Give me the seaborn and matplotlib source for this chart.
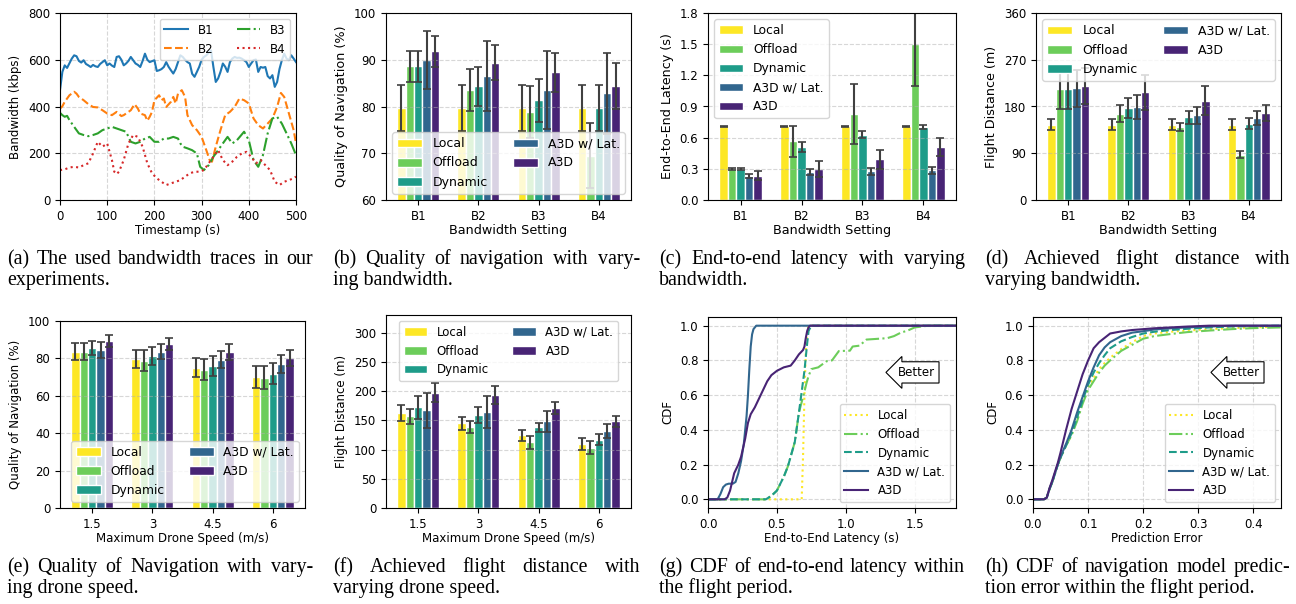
import numpy as np
import pandas as pd
import seaborn as sns
import matplotlib.pyplot as plt

# ---- data ----
methods = ['Local', 'Offload', 'Dynamic', 'A3D w/ Lat.', 'A3D']
bw_cats = ['B1', 'B2', 'B3', 'B4']
speed_cats = ['1.5', '3', '4.5', '6']

# (a) bandwidth traces (kbps)
b1_t = list(range(0, 501, 5))
b1_v = [470, 548, 576, 565, 585, 605, 619, 615, 595, 588, 598, 582, 576, 569, 578, 572, 569, 582, 590, 598,
        576, 584, 575, 569, 612, 615, 600, 576, 584, 595, 612, 598, 584, 578, 569, 595, 626, 600, 590, 594,
        598, 552, 555, 560, 569, 590, 570, 555, 541, 560, 590, 619, 612, 600, 590, 584, 540, 527, 548, 570,
        600, 612, 619, 630, 640, 569, 505, 520, 548, 584, 570, 548, 590, 605, 612, 608, 609, 605, 598, 590,
        569, 584, 598, 601, 548, 569, 566, 569, 530, 520, 534, 484, 505, 560, 598, 626, 605, 598, 619, 605, 590]
b2_t = [0, 5, 10, 15, 20, 30, 35, 40, 50, 60, 70, 80, 90, 100, 110, 120, 130, 135, 140, 150, 158, 165, 170,
        180, 185, 190, 195, 200, 210, 215, 220, 225, 235, 240, 245, 250, 258, 265, 270, 280, 290, 300, 310,
        317, 322, 330, 340, 350, 360, 370, 380, 390, 400, 410, 420, 430, 440, 450, 460, 468, 475, 485, 495, 500]
b2_v = [391, 401, 420, 434, 448, 463, 455, 441, 427, 410, 398, 396, 384, 370, 363, 377, 359, 363, 370, 384,
        410, 391, 370, 363, 339, 356, 377, 427, 448, 427, 434, 398, 420, 441, 413, 455, 470, 441, 363, 320,
        299, 270, 213, 171, 164, 228, 299, 363, 377, 398, 434, 427, 413, 349, 320, 306, 327, 349, 398, 458,
        441, 370, 299, 242]
b3_t = [0, 5, 10, 15, 20, 30, 40, 50, 60, 70, 80, 90, 100, 110, 120, 130, 140, 150, 160, 170, 180, 190, 200,
        210, 220, 230, 240, 250, 255, 260, 270, 280, 290, 297, 305, 315, 325, 335, 345, 355, 365, 375, 390,
        400, 410, 420, 430, 440, 450, 460, 470, 480, 490, 500]
b3_v = [373, 363, 356, 360, 342, 313, 285, 278, 273, 278, 285, 299, 306, 313, 306, 299, 292, 249, 242, 249,
        263, 270, 249, 249, 263, 263, 270, 263, 242, 228, 221, 213, 199, 142, 128, 149, 185, 213, 242, 270,
        242, 256, 292, 256, 171, 142, 192, 285, 349, 356, 327, 285, 242, 192]
b4_t = [0, 10, 20, 30, 40, 50, 60, 70, 80, 90, 100, 110, 115, 120, 125, 135, 145, 155, 165, 175, 185, 195,
        205, 215, 225, 235, 245, 255, 265, 275, 285, 295, 305, 315, 325, 335, 345, 355, 365, 375, 385, 395,
        405, 415, 425, 435, 445, 455, 465, 475, 485, 495, 500]
b4_v = [128, 131, 139, 142, 139, 149, 157, 199, 249, 228, 242, 171, 121, 111, 121, 171, 242, 278, 270, 228,
        157, 114, 93, 78, 64, 71, 78, 85, 100, 114, 121, 121, 128, 157, 185, 213, 171, 149, 164, 185, 199,
        206, 185, 157, 171, 149, 128, 78, 64, 78, 85, 93, 100]

# (b) quality of navigation vs bandwidth (%)
qon_bw_mean = [[79.7, 79.7, 79.7, 79.7],
               [88.6, 83.5, 78.8, 69.5],
               [88.6, 84.3, 81.3, 79.7],
               [89.9, 86.5, 83.5, 82.8],
               [91.8, 89.4, 87.3, 84.3]]
qon_bw_err = [[5.0, 5.0, 5.0, 5.0],
              [3.3, 4.5, 5.5, 7.0],
              [3.3, 4.2, 4.6, 5.0],
              [6.2, 7.5, 8.3, 8.6],
              [3.3, 3.7, 4.2, 4.9]]

# (c) latency vs bandwidth (s)
lat_bw_mean = [[0.71, 0.71, 0.71, 0.71],
               [0.30, 0.565, 0.83, 1.50],
               [0.30, 0.51, 0.63, 0.70],
               [0.235, 0.27, 0.275, 0.285],
               [0.235, 0.30, 0.39, 0.51]]
lat_bw_err = [[0.005, 0.005, 0.005, 0.005],
              [0.01, 0.15, 0.29, 0.40],
              [0.01, 0.05, 0.035, 0.02],
              [0.02, 0.03, 0.03, 0.03],
              [0.045, 0.075, 0.095, 0.085]]

# (d) flight distance vs bandwidth (m)
dist_bw_mean = [[145, 145, 145, 145],
                [213, 166, 140, 87],
                [213, 177, 159, 147],
                [215, 179, 163, 158],
                [219, 207, 191, 168]]
dist_bw_err = [[10, 10, 10, 10],
               [37, 16, 8, 7],
               [37, 20, 13, 10],
               [36, 23, 16, 13],
               [35, 34, 28, 15]]

# (e) quality of navigation vs speed (%)
qon_sp_mean = [[83.5, 79.7, 74.9, 70.1],
               [83.5, 78.8, 73.9, 69.6],
               [85.6, 81.3, 76.0, 71.8],
               [84.4, 83.5, 79.2, 77.0],
               [89.4, 87.6, 83.4, 80.3]]
qon_sp_err = [[4.5, 4.8, 5.1, 5.9],
              [4.5, 5.5, 5.6, 6.1],
              [3.8, 4.6, 5.2, 5.6],
              [4.2, 4.0, 4.5, 4.6],
              [3.2, 3.2, 4.2, 4.3]]

# (f) flight distance vs speed (m)
dist_sp_mean = [[162, 145, 124, 110],
                [157, 139, 112, 103],
                [172, 159, 138, 117],
                [167, 164, 148, 131],
                [197, 193, 171, 148]]
dist_sp_err = [[14, 11, 10, 10],
               [13, 10, 11, 11],
               [20, 14, 8, 10],
               [30, 28, 18, 12],
               [16, 15, 11, 10]]

# (g) CDF of end-to-end latency
lat_local_x = [0, 0.68, 0.69, 0.70, 0.71, 0.72, 0.73, 1.8]
lat_local_y = [0, 0, 0.25, 0.6, 0.85, 0.97, 1.0, 1.0]
lat_off_x = [0, 0.42, 0.46, 0.5, 0.55, 0.58, 0.63, 0.66, 0.7, 0.715, 0.73, 0.75, 0.8, 0.86, 0.9, 0.95,
             1.03, 1.05, 1.1, 1.15, 1.3, 1.35, 1.4, 1.45, 1.5, 1.6, 1.8]
lat_off_y = [0, 0, 0.02, 0.05, 0.13, 0.19, 0.33, 0.5, 0.62, 0.67, 0.71, 0.75, 0.76, 0.795, 0.8, 0.854,
             0.856, 0.88, 0.885, 0.92, 0.928, 0.94, 0.96, 0.972, 0.99, 1.0, 1.0]
lat_dyn_x = [0, 0.42, 0.46, 0.5, 0.55, 0.58, 0.63, 0.66, 0.7, 0.72, 0.73, 0.75, 1.8]
lat_dyn_y = [0, 0, 0.02, 0.05, 0.13, 0.19, 0.33, 0.5, 0.74, 0.9, 0.97, 1.0, 1.0]
lat_wl_x = [0, 0.07, 0.09, 0.11, 0.13, 0.15, 0.18, 0.2, 0.22, 0.24, 0.26, 0.28, 0.29, 0.30, 0.31, 0.32,
            0.33, 0.35, 1.8]
lat_wl_y = [0, 0, 0.03, 0.07, 0.085, 0.09, 0.09, 0.1, 0.15, 0.22, 0.32, 0.48, 0.6, 0.75, 0.88, 0.95,
            0.98, 1.0, 1.0]
lat_a3d_x = [0, 0.12, 0.14, 0.16, 0.19, 0.22, 0.24, 0.27, 0.29, 0.31, 0.34, 0.37, 0.4, 0.43, 0.46, 0.5,
             0.55, 0.6, 0.63, 0.66, 0.69, 0.7, 0.71, 0.72, 0.73, 0.74, 1.8]
lat_a3d_y = [0, 0, 0.01, 0.05, 0.15, 0.2, 0.245, 0.35, 0.44, 0.49, 0.53, 0.58, 0.63, 0.68, 0.715, 0.74,
             0.76, 0.77, 0.8, 0.835, 0.86, 0.88, 0.93, 0.97, 0.99, 1.0, 1.0]

# (h) CDF of prediction error
err_x = [0, 0.02, 0.025, 0.03, 0.035, 0.04, 0.045, 0.05, 0.06, 0.07, 0.08, 0.09, 0.1, 0.11, 0.12, 0.13,
         0.14, 0.16, 0.18, 0.2, 0.22, 0.25, 0.28, 0.32, 0.36, 0.4, 0.45]
err_local = [0, 0, 0.01, 0.06, 0.1, 0.15, 0.2, 0.24, 0.31, 0.37, 0.46, 0.56, 0.645, 0.7, 0.75, 0.785,
             0.815, 0.865, 0.905, 0.94, 0.955, 0.965, 0.972, 0.98, 0.986, 0.99, 0.995]
err_off = [0, 0, 0.01, 0.06, 0.1, 0.15, 0.2, 0.24, 0.31, 0.37, 0.45, 0.55, 0.63, 0.68, 0.73, 0.77,
           0.8, 0.855, 0.89, 0.925, 0.94, 0.952, 0.963, 0.972, 0.98, 0.986, 0.99]
err_dyn = [0, 0, 0.01, 0.06, 0.1, 0.15, 0.2, 0.24, 0.31, 0.38, 0.47, 0.57, 0.66, 0.73, 0.785, 0.83,
           0.87, 0.91, 0.935, 0.955, 0.965, 0.975, 0.982, 0.99, 0.995, 0.998, 1.0]
err_wl = [0, 0, 0.01, 0.06, 0.1, 0.15, 0.2, 0.245, 0.32, 0.4, 0.5, 0.59, 0.68, 0.76, 0.83, 0.875,
          0.905, 0.94, 0.96, 0.968, 0.978, 0.985, 0.99, 0.995, 1.0, 1.0, 1.0]
err_a3d = [0, 0, 0.01, 0.065, 0.11, 0.16, 0.21, 0.27, 0.4, 0.52, 0.62, 0.72, 0.8, 0.87, 0.905, 0.93,
           0.955, 0.967, 0.975, 0.98, 0.985, 0.99, 0.995, 1.0, 1.0, 1.0, 1.0]

captions = [
    ('(a) The used bandwidth traces in our', 'experiments.'),
    ('(b) Quality of navigation with vary-', 'ing bandwidth.'),
    ('(c) End-to-end latency with varying', 'bandwidth.'),
    ('(d) Achieved flight distance with', 'varying bandwidth.'),
    ('(e) Quality of Navigation with vary-', 'ing drone speed.'),
    ('(f) Achieved flight distance with', 'varying drone speed.'),
    ('(g) CDF of end-to-end latency within', 'the flight period.'),
    ('(h) CDF of navigation model predic-', 'tion error within the flight period.'),
]

# ---- style ----
plt.rcParams['font.size'] = 8.5
plt.rcParams['font.family'] = ['DejaVu Sans']
colors = [plt.cm.viridis(v) for v in [1.0, 0.775, 0.55, 0.325, 0.1]]
line_styles = [':', '-.', '--', '-', '-']

W, H = 1296, 604
fig = plt.figure(figsize=(W / 100, H / 100), dpi=100)


def ax_px(l, t, r, b):
    return fig.add_axes([l / W, 1 - b / H, (r - l) / W, (b - t) / H])


def bar_panel(ax, cats, means, errs, xlabel, ylabel, ylim, yticks, leg_loc, leg_ncol, lab_fs=8.5, leg_fs=8.5):
    rows = []
    for mi, m in enumerate(methods):
        for ci, c in enumerate(cats):
            rows.append({'cat': c, 'method': m, 'val': means[mi][ci]})
    df = pd.DataFrame(rows)
    sns.barplot(data=df, x='cat', y='val', hue='method', order=cats, hue_order=methods,
                palette=colors, errorbar=None, width=0.7, saturation=1,
                edgecolor='white', linewidth=1, ax=ax)
    for cont, e in zip(ax.containers, errs):
        for bar, ev in zip(cont, e):
            ax.errorbar(bar.get_x() + bar.get_width() / 2, bar.get_height(), yerr=ev,
                        color='0.25', capsize=3, elinewidth=1.5, capthick=1.2)
    ax.set_ylim(*ylim)
    ax.set_yticks(yticks)
    ax.set_xlabel(xlabel, labelpad=1, fontsize=lab_fs)
    ax.set_ylabel(ylabel, fontsize=lab_fs)
    ax.grid(axis='y', linestyle='--', alpha=0.5)
    sns.move_legend(ax, leg_loc, ncol=leg_ncol, title=None, frameon=True, fontsize=leg_fs)


# (a)
ax = ax_px(60, 13, 296, 200)
for t, v, c, ls, lab in [(b1_t, b1_v, 'tab:blue', '-', 'B1'), (b2_t, b2_v, 'tab:orange', '--', 'B2'),
                         (b3_t, b3_v, 'tab:green', '-.', 'B3'), (b4_t, b4_v, 'tab:red', ':', 'B4')]:
    sns.lineplot(x=t, y=v, color=c, linestyle=ls, linewidth=1.5, label=lab,
                 estimator=None, sort=False, ax=ax)
ax.set_xlim(0, 500)
ax.set_ylim(0, 800)
ax.set_xticks([0, 100, 200, 300, 400, 500])
ax.set_yticks([0, 200, 400, 600, 800])
ax.grid(linestyle='--', alpha=0.5)
ax.set_xlabel('Timestamp (s)', labelpad=1)
ax.set_ylabel('Bandwidth (kbps)')
ax.legend(loc='upper right', ncol=2)

# (b)
ax = ax_px(386, 13, 631, 200)
bar_panel(ax, bw_cats, qon_bw_mean, qon_bw_err, 'Bandwidth Setting', 'Quality of Navigation (%)',
          (60, 100), [60, 70, 80, 90, 100], 'lower center', 2, lab_fs=9.2, leg_fs=9)

# (c)
ax = ax_px(708, 13, 956, 200)
bar_panel(ax, bw_cats, lat_bw_mean, lat_bw_err, 'Bandwidth Setting', 'End-to-End Latency (s)',
          (0, 1.8), [0, 0.3, 0.6, 0.9, 1.2, 1.5, 1.8], 'upper left', 1, lab_fs=9.2, leg_fs=8.8)
ax.set_yticklabels(['0.0', '0.3', '0.6', '0.9', '1.2', '1.5', '1.8'])

# (d)
ax = ax_px(1036, 13, 1281, 200)
bar_panel(ax, bw_cats, dist_bw_mean, dist_bw_err, 'Bandwidth Setting', 'Flight Distance (m)',
          (0, 360), [0, 90, 180, 270, 360], 'upper center', 2, lab_fs=9.2, leg_fs=9)

# (e)
ax = ax_px(60, 321, 305, 508)
bar_panel(ax, speed_cats, qon_sp_mean, qon_sp_err, 'Maximum Drone Speed (m/s)', 'Quality of Navigation (%)',
          (0, 100), [0, 20, 40, 60, 80, 100], 'lower right', 2, leg_fs=8.8)

# (f)
ax = ax_px(386, 315, 631, 508)
bar_panel(ax, speed_cats, dist_sp_mean, dist_sp_err, 'Maximum Drone Speed (m/s)', 'Flight Distance (m)',
          (0, 330), [0, 50, 100, 150, 200, 250, 300], 'upper center', 2)


def cdf_panel(ax, series, xlim, xticks, xlabel):
    for (x, y), c, ls, lab in zip(series, colors, line_styles, methods):
        sns.lineplot(x=x, y=y, color=c, linestyle=ls, linewidth=1.5, label=lab,
                     estimator=None, sort=False, ax=ax)
    ax.set_xlim(*xlim)
    ax.set_ylim(-0.05, 1.05)
    ax.set_xticks(xticks)
    ax.set_yticks([0, 0.2, 0.4, 0.6, 0.8, 1.0])
    ax.set_yticklabels(['0.0', '0.2', '0.4', '0.6', '0.8', '1.0'])
    ax.grid(linestyle='--', alpha=0.5)
    ax.set_xlabel(xlabel, labelpad=1)
    ax.set_ylabel('CDF')
    ax.legend(loc='lower right')
    ax.text(0.84, 0.71, 'Better', transform=ax.transAxes, ha='center', va='center',
            bbox=dict(boxstyle='larrow,pad=0.35', fc='white', ec='black', lw=0.8))


# (g)
ax = ax_px(708, 317, 956, 508)
cdf_panel(ax, [(lat_local_x, lat_local_y), (lat_off_x, lat_off_y), (lat_dyn_x, lat_dyn_y),
               (lat_wl_x, lat_wl_y), (lat_a3d_x, lat_a3d_y)],
          (0, 1.8), [0, 0.5, 1.0, 1.5], 'End-to-End Latency (s)')
ax.set_xticklabels(['0.0', '0.5', '1.0', '1.5'])

# (h)
ax = ax_px(1033, 317, 1281, 508)
cdf_panel(ax, [(err_x, err_local), (err_x, err_off), (err_x, err_dyn), (err_x, err_wl), (err_x, err_a3d)],
          (0, 0.45), [0, 0.1, 0.2, 0.3, 0.4], 'Prediction Error')
ax.set_xticklabels(['0.0', '0.1', '0.2', '0.3', '0.4'])

# ---- captions (first line justified) ----
col_x = [(7, 313), (333, 640), (659, 965), (985, 1290)]
renderer = fig.canvas.get_renderer()
cap_font = dict(fontsize=14.4, family='Liberation Serif')
for i, (l1, l2) in enumerate(captions):
    x0, x1 = col_x[i % 4]
    base = 264 if i < 4 else 572
    words = l1.split()
    texts = [fig.text(0, 0, w, va='baseline', **cap_font) for w in words]
    widths = [t.get_window_extent(renderer).width for t in texts]
    gap = ((x1 - x0) - sum(widths)) / (len(words) - 1)
    x = x0
    for t, w in zip(texts, widths):
        t.set_position((x / W, 1 - base / H))
        x += w + gap
    fig.text(x0 / W, 1 - (base + 21) / H, l2, va='baseline', **cap_font)

fig.savefig('out.png', dpi=100)
